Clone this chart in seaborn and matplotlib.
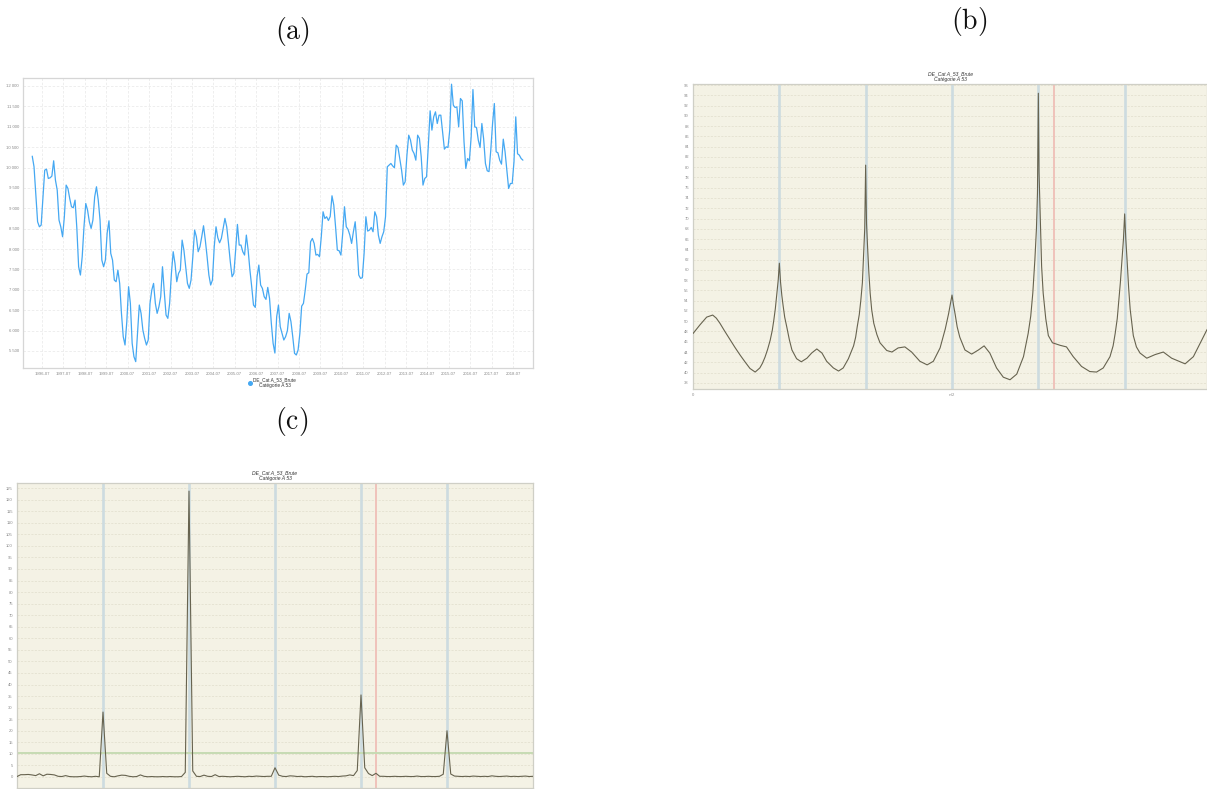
import numpy as np
import pandas as pd
import matplotlib
matplotlib.use("Agg")
import matplotlib.pyplot as plt
from matplotlib.lines import Line2D
import seaborn as sns

# ---------------- data: panel (a) monthly series 1996-01 .. 2018-12 ----------------
start_year = 1996
series_a = [
    10279, 10018, 9364, 8670, 8547, 8588, 9270, 9936, 9961, 9732, 9748, 9790,      # 1996
    10165, 9691, 9446, 8711, 8547, 8302, 8792, 9569, 9487, 9242, 9038, 9013,       # 1997
    9201, 8508, 7567, 7363, 7812, 8547, 9119, 8956, 8670, 8507, 8711, 9283,        # 1998
    9528, 9201, 8711, 7730, 7567, 7730, 8400, 8694, 7894, 7730, 7240, 7199,        # 1999
    7485, 7158, 6423, 5851, 5647, 6220, 7077, 6668, 5688, 5361, 5239, 5933,        # 2000
    6627, 6423, 6015, 5811, 5647, 5770, 6668, 6995, 7158, 6668, 6423, 6586,        # 2001
    6832, 7567, 6950, 6382, 6301, 6668, 7404, 7935, 7649, 7199, 7404, 7485,        # 2002
    8220, 7975, 7567, 7158, 7036, 7240, 7812, 8466, 8300, 7935, 8057, 8302,        # 2003
    8572, 8220, 7812, 7363, 7118, 7240, 8057, 8547, 8280, 8155, 8262, 8507,        # 2004
    8752, 8547, 8139, 7690, 7322, 7404, 7975, 8605, 8098, 8098, 7935, 7853,        # 2005
    8343, 7975, 7485, 7077, 6627, 6570, 7322, 7608, 7118, 7036, 6832, 6766,        # 2006
    7060, 6791, 6178, 5688, 5450, 6341, 6627, 6096, 5933, 5770, 5851, 5998,        # 2007
    6423, 6219, 5851, 5443, 5402, 5525, 5933, 6600, 6668, 6995, 7387, 7420,        # 2008
    8180, 8261, 8139, 7853, 7869, 7812, 8302, 8915, 8750, 8793, 8700, 8800,        # 2009
    9307, 9078, 8547, 7975, 7959, 7853, 8384, 9038, 8547, 8482, 8343, 8139,        # 2010
    8425, 8670, 8100, 7363, 7281, 7297, 7894, 8793, 8441, 8466, 8531, 8425,        # 2011
    8915, 8792, 8343, 8139, 8302, 8425, 8793, 10018, 10059, 10100, 10040, 9994,    # 2012
    10549, 10492, 10222, 9936, 9569, 9650, 10304, 10794, 10672, 10427, 10345, 10181,  # 2013
    10794, 10712, 10263, 9569, 9732, 9773, 10549, 11391, 10917, 11243, 11366, 11080,  # 2014
    11284, 11284, 10876, 10451, 10508, 10492, 10917, 12044, 11529, 11472, 11489, 10998,  # 2015
    11693, 11636, 10631, 9977, 10222, 10165, 10753, 11913, 10998, 10982, 10672, 10492,  # 2016
    11080, 10700, 10100, 9920, 9900, 10427, 11080, 11570, 10386, 10361, 10181, 10083,  # 2017
    10696, 10386, 9936, 9487, 9609, 9609, 10141, 11243, 10337, 10304, 10222, 10181,  # 2018
]
a_tick_years = list(range(1996, 2019))
a_yticks = list(range(5500, 12001, 500))
legend_label = "DE_Cat A_53_Brute\nCatégorie A 53"

# ---------------- data: panel (b) AR spectrum (dB), frequency in units of pi ----------------
b_freq = [0.000, 0.0135, 0.0264, 0.038, 0.045, 0.052, 0.061, 0.071, 0.081, 0.091,
          0.101, 0.110, 0.120, 0.129, 0.134, 0.139, 0.144, 0.149, 0.153, 0.156,
          0.159, 0.162, 0.1645, 0.1667, 0.169, 0.1715, 0.174, 0.177, 0.181, 0.186,
          0.191, 0.200, 0.209, 0.220, 0.229, 0.239, 0.249, 0.258, 0.271, 0.281,
          0.290, 0.300, 0.306, 0.310, 0.314, 0.317, 0.321, 0.324, 0.327, 0.329,
          0.3315, 0.3333, 0.335, 0.337, 0.3395, 0.342, 0.345, 0.349, 0.355, 0.361,
          0.374, 0.384, 0.396, 0.409, 0.422, 0.438, 0.452, 0.464, 0.477, 0.487,
          0.4935, 0.500, 0.503, 0.506, 0.510, 0.515, 0.525, 0.538, 0.551, 0.562,
          0.573, 0.586, 0.599, 0.612, 0.625, 0.638, 0.647, 0.652, 0.656, 0.660,
          0.663, 0.665, 0.6667, 0.668, 0.6705, 0.673, 0.676, 0.681, 0.686, 0.694,
          0.709, 0.721, 0.734, 0.750, 0.766, 0.779, 0.792, 0.805, 0.811, 0.815,
          0.819, 0.822, 0.825, 0.828, 0.831, 0.8333, 0.8355, 0.838, 0.841, 0.844,
          0.850, 0.856, 0.863, 0.876, 0.892, 0.908, 0.924, 0.950, 0.966, 0.979,
          0.992, 1.000]
b_db = [47.6, 49.3, 50.8, 51.2, 50.6, 49.6, 48.1, 46.5, 44.9, 43.4,
        42.0, 40.8, 40.1, 40.9, 41.8, 43.0, 44.5, 46.3, 48.2, 50.2,
        52.5, 55.5, 58.0, 61.3, 57.6, 55.0, 53.0, 50.8, 48.9, 46.4,
        44.4, 42.7, 42.1, 42.8, 43.8, 44.6, 43.8, 42.2, 40.9, 40.3,
        40.9, 42.7, 44.2, 45.2, 46.9, 48.9, 51.3, 54.1, 57.5, 62.0,
        68.0, 80.4, 69.0, 64.5, 59.5, 55.5, 52.2, 49.6, 47.4, 45.8,
        44.3, 44.0, 44.8, 45.0, 44.0, 42.2, 41.5, 42.2, 44.8, 48.5,
        51.5, 55.1, 53.1, 51.4, 48.9, 46.9, 44.4, 43.6, 44.4, 45.2,
        43.8, 40.9, 39.1, 38.6, 39.7, 43.1, 47.6, 51.0, 55.5, 62.0,
        68.0, 75.0, 94.4, 79.0, 70.0, 60.7, 55.5, 50.5, 47.2, 45.8,
        45.3, 45.0, 43.1, 41.2, 40.2, 40.1, 40.9, 43.1, 45.2, 47.6,
        50.5, 54.1, 57.5, 61.9, 66.0, 70.9, 66.0, 61.9, 56.5, 52.3,
        47.2, 45.0, 43.8, 42.8, 43.5, 44.0, 42.8, 41.7, 43.1, 45.7,
        48.3, 49.5]
b_yticks = list(range(38, 97, 2))

# seasonal frequencies (k/6 pi) and trading-day frequency
seasonal_freqs = [1 / 6, 2 / 6, 3 / 6, 4 / 6, 5 / 6]
trading_day_freq = 0.696

# ---------------- data: panel (c) periodogram at Fourier frequencies j/138 pi ----------------
c_values = [
    0.2, 1.0, 1.0, 1.1, 0.9, 0.6, 1.4, 0.5, 1.2, 1.1,
    0.9, 0.3, 0.2, 0.6, 0.2, 0.1, 0.1, 0.2, 0.4, 0.2,
    0.1, 0.3, 0.1, 28.1, 1.6, 0.3, 0.1, 0.5, 0.8, 0.7,
    0.3, 0.1, 0.2, 0.9, 0.3, 0.1, 0.2, 0.1, 0.1, 0.2,
    0.1, 0.2, 0.1, 0.1, 0.2, 2.0, 123.7, 2.6, 0.3, 0.2,
    0.8, 0.3, 0.2, 1.0, 0.2, 0.3, 0.2, 0.1, 0.2, 0.3,
    0.2, 0.1, 0.3, 0.2, 0.4, 0.3, 0.2, 0.3, 0.3, 4.0,
    0.8, 0.3, 0.2, 0.5, 0.4, 0.2, 0.3, 0.1, 0.2, 0.3,
    0.1, 0.2, 0.2, 0.1, 0.2, 0.3, 0.2, 0.4, 0.5, 0.9,
    0.6, 2.8, 35.5, 4.0, 1.5, 0.6, 1.6, 0.3, 0.3, 0.2,
    0.2, 0.3, 0.2, 0.2, 0.3, 0.2, 0.2, 0.4, 0.2, 0.2,
    0.3, 0.2, 0.2, 0.3, 1.2, 20.0, 1.3, 0.4, 0.3, 0.2,
    0.3, 0.2, 0.4, 0.3, 0.2, 0.3, 0.2, 0.5, 0.3, 0.2,
    0.3, 0.4, 0.2, 0.3, 0.2, 0.3, 0.4, 0.2, 0.3,
]
c_threshold = 10.4
c_yticks = list(range(0, 126, 5))
spec_title = "DE_Cat A_53_Brute\nCatégorie A 53"

# ---------------- styling ----------------
sns.set_theme(style="white")
plt.rcParams["font.family"] = ["Liberation Sans", "DejaVu Sans"]
plt.rcParams["mathtext.fontset"] = "cm"

W, H = 1207, 789
fig = plt.figure(figsize=(W / 100, H / 100), dpi=100)


def box(l, t, r, b):
    return [l / W, 1 - b / H, (r - l) / W, (b - t) / H]


LINE_BLUE = "#45a8f2"
BEIGE = "#f4f2e5"
SPEC_LINE = "#67634f"
TICK_C = "#8a8a8a"

# ---------------- panel (a) ----------------
axA = fig.add_axes(box(23, 78, 533, 368))
dfa = pd.DataFrame({
    "t": start_year + (np.arange(len(series_a)) + 0.5) / 12.0,
    "v": series_a,
})
sns.lineplot(data=dfa, x="t", y="v", ax=axA, color=LINE_BLUE, linewidth=0.9,
             estimator=None, legend=False)
axA.set_xlim(1995.61, 2019.43)
axA.set_ylim(5083, 12196)
axA.set_xticks([y + 0.5 for y in a_tick_years])
axA.set_xticklabels([f"{y}-07" for y in a_tick_years])
axA.set_yticks(a_yticks)
axA.set_yticklabels([f"{v:,}".replace(",", " ") for v in a_yticks])
axA.tick_params(axis="both", labelsize=3.1, colors=TICK_C, length=0, pad=3)
axA.grid(True, color="#ebebeb", linewidth=0.6, linestyle=(0, (3, 2)))
axA.set_xlabel("")
axA.set_ylabel("")
for s in axA.spines.values():
    s.set_color("#d6d6d6")
    s.set_linewidth(0.9)

handle = Line2D([], [], marker="o", color=LINE_BLUE, linestyle="", markersize=2.6)
leg = fig.legend([handle], [legend_label], loc="center",
                 bbox_to_anchor=(272 / W, 1 - 383 / H), frameon=False,
                 fontsize=3.4, handletextpad=0.25, handlelength=0.8)
for t in leg.get_texts():
    t.set_multialignment("center")
    t.set_color("#333333")


def spectrum_axes(ax, yticks, ylim, xlim):
    ax.set_facecolor(BEIGE)
    ax.set_xlim(*xlim)
    ax.set_ylim(*ylim)
    ax.set_yticks(yticks)
    ax.set_yticklabels([str(v) for v in yticks])
    ax.tick_params(axis="both", labelsize=3.0, colors=TICK_C, length=0, pad=3)
    ax.grid(False)
    for v in yticks:
        ax.axhline(v, color="#e0ddcc", linewidth=0.5, linestyle=(0, (3, 2)), zorder=0)
    for f in seasonal_freqs:
        ax.axvline(f, color="#cddbe0", linewidth=1.9, zorder=1)
    ax.axvline(trading_day_freq, color="#efc2ba", linewidth=1.4, zorder=1)
    for s in ax.spines.values():
        s.set_color("#cfcfc6")
        s.set_linewidth(0.9)
    ax.set_title(spec_title, fontsize=3.6, style="italic", pad=2.5, color="#333333",
                 linespacing=1.05)
    ax.set_xlabel("")
    ax.set_ylabel("")


# ---------------- panel (b) ----------------
axB = fig.add_axes(box(693, 84, 1207, 389))
spectrum_axes(axB, b_yticks, (36.8, 96.2), (0, (1207 - 693) / 518))
sns.lineplot(x=b_freq, y=b_db, ax=axB, color=SPEC_LINE, linewidth=0.8,
             estimator=None, sort=False, zorder=3)
axB.set_xticks([0, 0.5])
axB.set_xticklabels(["0", "π/2"])

# ---------------- panel (c) ----------------
axC = fig.add_axes(box(17, 483, 533, 788))
spectrum_axes(axC, c_yticks, (-4.76, 127.2), (0, 1))
axC.axhline(c_threshold, color="#c6dbb3", linewidth=1.4, zorder=1)
c_freq = np.arange(len(c_values)) / (len(c_values) - 1)
sns.lineplot(x=c_freq, y=c_values, ax=axC, color=SPEC_LINE, linewidth=0.8,
             estimator=None, sort=False, zorder=3)
axC.set_xticks([])

# ---------------- panel labels ----------------
for lab, x, y in [("(a)", 292, 32), ("(b)", 969, 22), ("(c)", 292, 421)]:
    fig.text(x / W, 1 - y / H, r"$\mathrm{" + lab + "}$", ha="center", va="center",
             fontsize=20, color="#111111")

fig.savefig("out.png", dpi=100)
